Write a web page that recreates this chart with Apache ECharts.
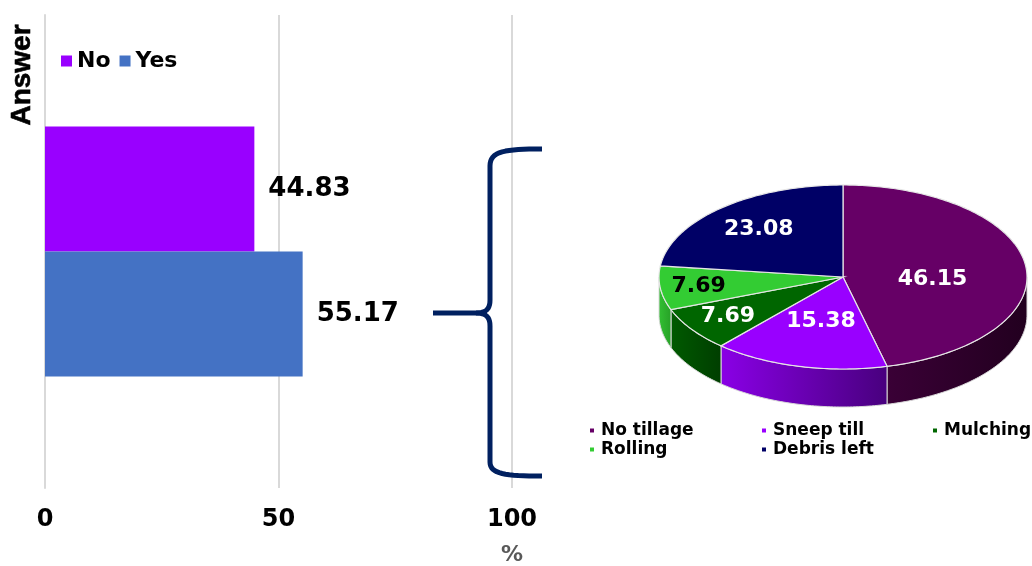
<!DOCTYPE html>
<html>
<head>
<meta charset="utf-8">
<title>Tillage answers</title>
<script src="https://cdn.jsdelivr.net/npm/echarts@6/dist/echarts.min.js"></script>
<style>
  html, body { margin: 0; padding: 0; background: #ffffff; }
  #chart { width: 1032px; height: 566px; }
</style>
</head>
<body>
<div id="chart"></div>
<script>
// Answer shares (%)
const answerNames = ['No', 'Yes'];
const answerValues = [44.83, 55.17];
const answerCategory = [''];
const axisTicks = [0, 50, 100];

// Breakdown of the practices used (%)
const practiceNames = ['No tillage', 'Sneep till', 'Mulching', 'Rolling', 'Debris left'];
const practiceValues = [46.15, 15.38, 7.69, 7.69, 23.08];

// Styling
const FONT = 'DejaVu Sans';
const barColors = ['#9900FF', '#4472C4'];
const topColors = ['#660066', '#9900FF', '#006600', '#33CC33', '#000066'];
const sideColors = [
  ['#3a0036', '#22001f'],
  ['#8a00e6', '#48007e'],
  ['#005a00', '#003e00'],
  ['#33c033', '#27a027'],
  ['#000050', '#00003a']
];
const labelColors = ['#ffffff', '#ffffff', '#ffffff', '#000000', '#ffffff'];
const labelRadius = [0.49, 0.5, 0.76, 0.79, 0.69];

// Tilted pie geometry
const PIE = { cx: 843, cy: 277, rx: 184, ry: 92, depth: 38 };

function ellipsePoint(deg, dy) {
  const t = deg * Math.PI / 180;
  return [PIE.cx + PIE.rx * Math.sin(t), PIE.cy - PIE.ry * Math.cos(t) + (dy || 0)];
}

function arcPoints(a, b, dy) {
  const pts = [];
  const steps = Math.max(2, Math.ceil(Math.abs(b - a)));
  for (let i = 0; i <= steps; i++) pts.push(ellipsePoint(a + (b - a) * i / steps, dy));
  return pts;
}

const practiceTotal = practiceValues.reduce((s, v) => s + v, 0);

function renderSlice(params, api) {
  const idx = params.dataIndex;
  let before = 0;
  for (let i = 0; i < idx; i++) before += practiceValues[i];
  const a = before / practiceTotal * 360;
  const b = (before + api.value(0)) / practiceTotal * 360;
  const children = [];

  // visible front wall between 90 and 270 degrees
  const s = Math.max(a, 90), e = Math.min(b, 270);
  if (e > s) {
    const top = arcPoints(s, e, 0);
    const bottom = arcPoints(e, s, PIE.depth);
    children.push({
      type: 'polygon',
      z2: 1,
      shape: { points: top.concat(bottom) },
      style: {
        fill: new echarts.graphic.LinearGradient(0, 0, 1, 0, [
          { offset: 0, color: sideColors[idx][0] },
          { offset: 1, color: sideColors[idx][1] }
        ]),
        stroke: '#d8d8d8',
        lineWidth: 1
      }
    });
  }

  // top face
  children.push({
    type: 'polygon',
    z2: 10,
    shape: { points: [[PIE.cx, PIE.cy]].concat(arcPoints(a, b, 0)) },
    style: { fill: topColors[idx], stroke: '#e6e6e6', lineWidth: 1.2 }
  });

  // value label
  const mid = (a + b) / 2 * Math.PI / 180;
  const f = labelRadius[idx];
  children.push({
    type: 'text',
    z2: 20,
    x: PIE.cx + PIE.rx * f * Math.sin(mid),
    y: PIE.cy - PIE.ry * f * Math.cos(mid) + (idx === 0 ? 8 : 0),
    style: {
      text: api.value(0).toFixed(2),
      fill: labelColors[idx],
      font: 'bold 22px "' + FONT + '"',
      align: 'center',
      verticalAlign: 'middle'
    }
  });

  return { type: 'group', children: children };
}

// Curly brace linking the "Yes" bar to the breakdown
function bezier(p0, p1, p2, p3, n) {
  const pts = [];
  for (let i = 0; i <= n; i++) {
    const t = i / n, u = 1 - t;
    pts.push([
      u * u * u * p0[0] + 3 * u * u * t * p1[0] + 3 * u * t * t * p2[0] + t * t * t * p3[0],
      u * u * u * p0[1] + 3 * u * u * t * p1[1] + 3 * u * t * t * p2[1] + t * t * t * p3[1]
    ]);
  }
  return pts;
}
const braceUpper = []
  .concat(bezier([542, 149], [505, 149], [490, 151], [490, 166], 16))
  .concat(bezier([490, 300], [490, 309], [486, 313], [476, 313], 10))
  .concat([[433, 313]]);
const braceLower = []
  .concat(bezier([476, 313], [486, 313], [490, 317], [490, 326], 10))
  .concat(bezier([490, 462], [490, 474], [505, 476], [542, 476], 16));

const chart = echarts.init(document.getElementById('chart'), null, { renderer: 'canvas' });

const legendText = { fontFamily: FONT, fontWeight: 'bold', fontSize: 17, color: '#000', padding: [0, 0, 0, 2] };

chart.setOption({
  animation: false,
  grid: { left: 45, right: 520, top: 15, bottom: 76 },
  legend: [
    {
      data: answerNames,
      left: 61,
      top: 50,
      padding: 0,
      icon: 'rect',
      itemWidth: 11,
      itemHeight: 11,
      itemGap: 9,
      textStyle: { fontFamily: FONT, fontWeight: 'bold', fontSize: 22, color: '#000', padding: [0, 0, 0, 0] }
    },
    {
      data: [practiceNames[0], practiceNames[3]],
      orient: 'vertical',
      left: 590, top: 422,
      padding: 0,
      icon: 'rect', itemWidth: 4, itemHeight: 4, itemGap: 2,
      textStyle: legendText
    },
    {
      data: [practiceNames[1], practiceNames[4]],
      orient: 'vertical',
      left: 762, top: 422,
      padding: 0,
      icon: 'rect', itemWidth: 4, itemHeight: 4, itemGap: 2,
      textStyle: legendText
    },
    {
      data: [practiceNames[2]],
      orient: 'vertical',
      left: 933, top: 422,
      padding: 0,
      icon: 'rect', itemWidth: 4, itemHeight: 4, itemGap: 2,
      textStyle: legendText
    }
  ],
  xAxis: {
    type: 'value',
    min: axisTicks[0],
    max: axisTicks[axisTicks.length - 1],
    interval: axisTicks[1] - axisTicks[0],
    axisLine: { show: false },
    axisTick: { show: false },
    splitLine: { lineStyle: { color: '#d9d9d9', width: 2 } },
    axisLabel: { margin: 20, fontFamily: FONT, fontWeight: 'bold', fontSize: 24, color: '#000' },
    name: '%',
    nameLocation: 'end',
    nameGap: 0,
    nameTextStyle: {
      fontFamily: FONT, fontWeight: 'bold', fontSize: 22, color: '#595959',
      align: 'center', verticalAlign: 'top', padding: [56, 0, 0, 0]
    }
  },
  yAxis: {
    type: 'category',
    data: answerCategory,
    inverse: true,
    axisLine: { show: true, lineStyle: { color: '#d9d9d9', width: 2 } },
    axisTick: { show: false },
    axisLabel: { show: false }
  },
  graphic: [
    {
      type: 'text',
      x: 22, y: 75,
      rotation: Math.PI / 2,
      style: {
        text: 'Answer',
        font: 'bold 28px "Liberation Sans"',
        fill: '#000',
        stroke: '#000',
        lineWidth: 0.6,
        align: 'center',
        verticalAlign: 'middle'
      }
    },
    {
      type: 'polyline',
      z: 50,
      shape: { points: braceUpper },
      style: { stroke: '#002060', lineWidth: 5, fill: null, lineJoin: 'round' }
    },
    {
      type: 'polyline',
      z: 50,
      shape: { points: braceLower },
      style: { stroke: '#002060', lineWidth: 5, fill: null, lineJoin: 'round' }
    }
  ],
  series: [
    {
      name: answerNames[0],
      type: 'bar',
      data: [answerValues[0]],
      barWidth: 125,
      barGap: '0%',
      itemStyle: { color: barColors[0] },
      label: {
        show: true, position: 'right', distance: 14,
        formatter: p => p.value.toFixed(2),
        fontFamily: FONT, fontWeight: 'bold', fontSize: 26, color: '#000'
      }
    },
    {
      name: answerNames[1],
      type: 'bar',
      data: [answerValues[1]],
      barWidth: 125,
      barGap: '0%',
      itemStyle: { color: barColors[1] },
      label: {
        show: true, position: 'right', distance: 14,
        formatter: p => p.value.toFixed(2),
        fontFamily: FONT, fontWeight: 'bold', fontSize: 26, color: '#000'
      }
    },
    {
      // carries the practice names and colours for the legends
      type: 'pie',
      silent: true,
      center: [PIE.cx, PIE.cy],
      radius: [0, 0],
      label: { show: false },
      labelLine: { show: false },
      data: practiceNames.map((n, i) => ({ name: n, value: practiceValues[i], itemStyle: { color: topColors[i] } }))
    },
    {
      type: 'custom',
      coordinateSystem: 'none',
      silent: true,
      renderItem: renderSlice,
      data: practiceValues.map(v => [v])
    }
  ]
});
</script>
</body>
</html>
